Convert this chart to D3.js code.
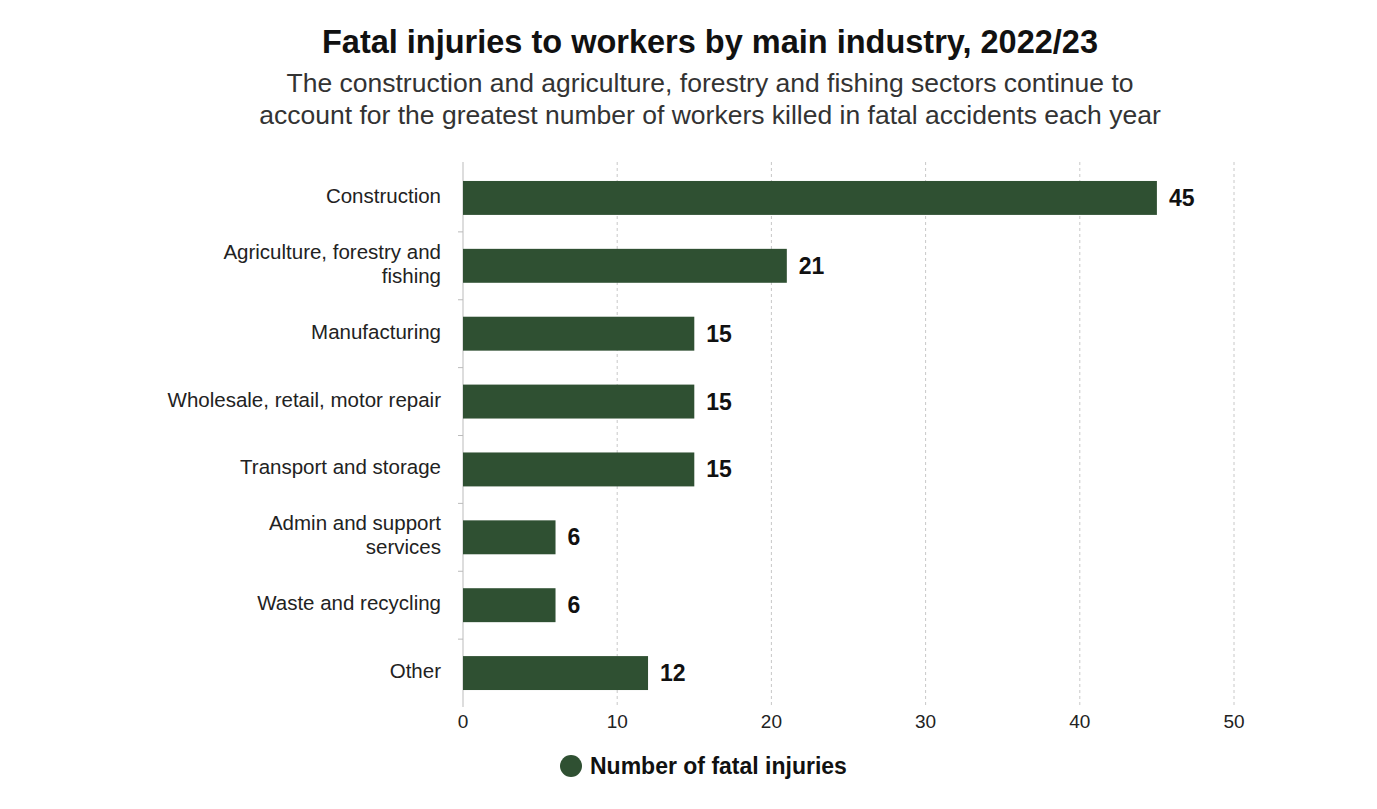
<!DOCTYPE html>
<html>
<head>
<meta charset="utf-8">
<script src="https://cdn.jsdelivr.net/npm/d3@7"></script>
<style>
  body { margin: 0; background: #fff; }
  text { font-family: "Liberation Sans", Arial, sans-serif; }
</style>
</head>
<body>
<script>
// Data
const industries = [
  ["Construction"],
  ["Agriculture, forestry and", "fishing"],
  ["Manufacturing"],
  ["Wholesale, retail, motor repair"],
  ["Transport and storage"],
  ["Admin and support", "services"],
  ["Waste and recycling"],
  ["Other"]
]
const fatalInjuries = [45, 21, 15, 15, 15, 6, 6, 12]
const xTicks = [0, 10, 20, 30, 40, 50]

const width = 1377, height = 809
const margin = { top: 164, right: 143, bottom: 102, left: 463 }

const svg = d3.select("body")
  .append("svg")
  .attr("width", width)
  .attr("height", height)

// titles
svg.append("text")
  .attr("x", 710).attr("y", 53)
  .attr("text-anchor", "middle")
  .attr("font-size", "32.5px")
  .attr("font-weight", "bold")
  .attr("fill", "#111")
  .text("Fatal injuries to workers by main industry, 2022/23")

const sub = ["The construction and agriculture, forestry and fishing sectors continue to",
  "account for the greatest number of workers killed in fatal accidents each year"]
svg.selectAll(".sub")
  .data(sub)
  .join("text")
  .attr("class", "sub")
  .attr("x", 710)
  .attr("y", (d, i) => 92 + i * 32)
  .attr("text-anchor", "middle")
  .attr("font-size", "26.5px")
  .attr("fill", "#333")
  .text(d => d)

const x = d3.scaleLinear()
  .domain([0, 50])
  .range([margin.left, width - margin.right])

const y = d3.scaleBand()
  .domain(d3.range(industries.length))
  .range([margin.top, height - margin.bottom])
  .paddingInner(0.5)
  .paddingOuter(0.25)

const plotBottom = height - margin.bottom

// gridlines
svg.append("g")
  .selectAll("line")
  .data(xTicks.slice(1))
  .join("line")
  .attr("x1", d => x(d)).attr("x2", d => x(d))
  .attr("y1", margin.top - 2).attr("y2", plotBottom)
  .attr("stroke", "#c8c8c8")
  .attr("stroke-dasharray", "3,3")

// x axis labels
svg.append("g")
  .selectAll("text")
  .data(xTicks)
  .join("text")
  .attr("x", d => x(d))
  .attr("y", plotBottom + 21)
  .attr("text-anchor", "middle")
  .attr("font-size", "19px")
  .attr("fill", "#222")
  .text(d => d)

// y axis line + separators between categories
svg.append("line")
  .attr("x1", x(0)).attr("x2", x(0))
  .attr("y1", margin.top - 2).attr("y2", plotBottom)
  .attr("stroke", "#bbb")

const step = y.step()
svg.append("g")
  .selectAll("line")
  .data(d3.range(1, industries.length))
  .join("line")
  .attr("x1", x(0) - 5).attr("x2", x(0))
  .attr("y1", d => y(d) - step * 0.25)
  .attr("y2", d => y(d) - step * 0.25)
  .attr("stroke", "#bbb")

// bars
svg.append("g")
  .selectAll("rect")
  .data(fatalInjuries)
  .join("rect")
  .attr("x", x(0))
  .attr("y", (d, i) => y(i))
  .attr("width", d => x(d) - x(0))
  .attr("height", y.bandwidth())
  .attr("fill", "#2f5032")

// value labels
svg.append("g")
  .selectAll("text")
  .data(fatalInjuries)
  .join("text")
  .attr("x", d => x(d) + 12)
  .attr("y", (d, i) => y(i) + y.bandwidth() / 2 + 8)
  .attr("font-size", "23px")
  .attr("font-weight", "bold")
  .attr("fill", "#111")
  .text(d => d)

// category labels
const lab = svg.append("g")
  .selectAll("text")
  .data(industries)
  .join("text")
  .attr("text-anchor", "end")
  .attr("font-size", "20.5px")
  .attr("fill", "#222")
  .attr("transform", (d, i) => `translate(${x(0) - 22}, ${y(i) + y.bandwidth() / 2})`)

lab.selectAll("tspan")
  .data(d => d.map((t, j) => ({ t, j, n: d.length })))
  .join("tspan")
  .attr("x", 0)
  .attr("y", d => (d.j - (d.n - 1) / 2) * 24 + 5)
  .text(d => d.t)

// legend
svg.append("circle")
  .attr("cx", 571).attr("cy", 766).attr("r", 11)
  .attr("fill", "#2f5032")
svg.append("text")
  .attr("x", 590).attr("y", 774)
  .attr("font-size", "23px")
  .attr("font-weight", "bold")
  .attr("fill", "#111")
  .text("Number of fatal injuries")
</script>
</body>
</html>
